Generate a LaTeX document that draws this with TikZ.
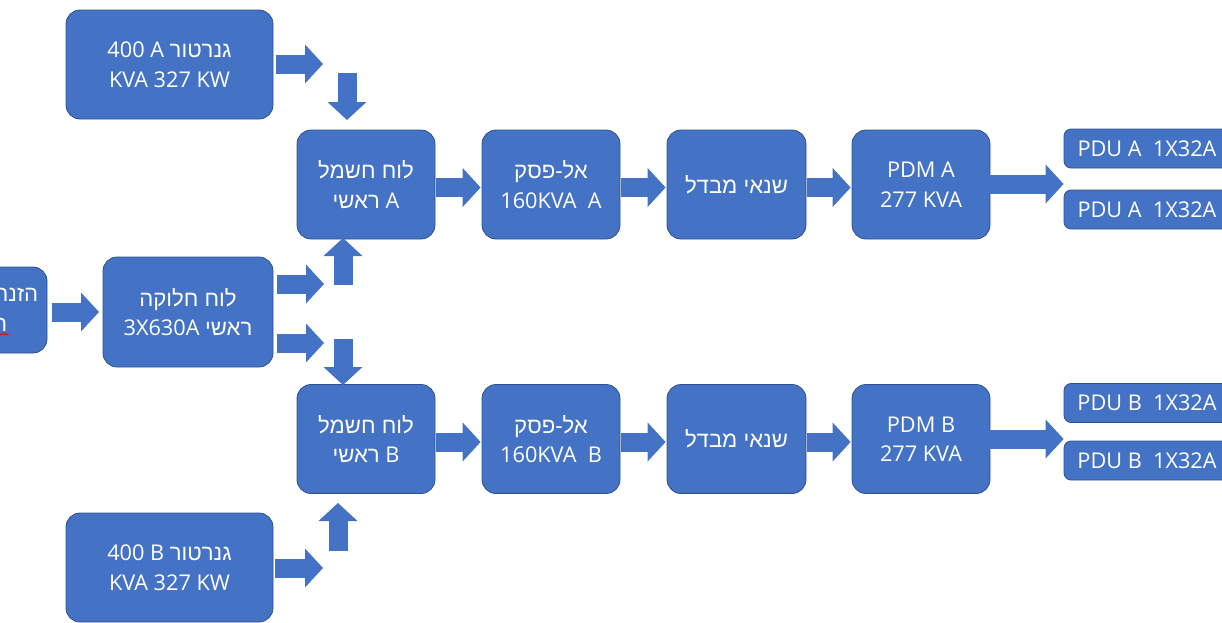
\documentclass[tikz,border=0pt]{standalone}
\usepackage{fontspec}
\setmainfont{Open Sans}
\newfontfamily\hebfont[Script=Hebrew,Scale=1.02]{Liberation Sans}
\TeXXeTstate=1
\newcommand\heb[1]{{\hebfont\beginR #1\endR}}
\usetikzlibrary{arrows.meta,decorations.pathmorphing}
\definecolor{boxblue}{HTML}{4472C4}
\definecolor{boxedge}{HTML}{2F528F}

\begin{document}
\begin{tikzpicture}[x=1pt,y=-1pt,
  box/.style={rectangle, rounded corners=14, fill=boxblue, draw=boxedge,
    line width=0.8, text=white, align=center, inner sep=0pt,
    minimum width=138, minimum height=109,
    font=\fontsize{21.7}{29.5}\selectfont},
  pdubox/.style={box, rounded corners=7, minimum width=166, minimum height=39},
  flow/.style={draw=boxblue, line width=19, line cap=butt,
    -{Triangle[length=18pt,width=39pt,line width=0pt]}}]

\useasboundingbox (0,0) rectangle (1222,622);
\clip (0,0) rectangle (1222,622);

% supply side
\node[box, minimum width=137, minimum height=86] (feed) at (-21.5,310)
  {\heb{הזנה מחברת}\\\heb{חשמל}};
\draw[red, line width=0.8, decorate, decoration={zigzag,amplitude=1,segment length=3}]
  (-40,334) -- (9,334);
\node[box, minimum width=207] (genA) at (169.5,64.5) {400 A \heb{גנרטור}\\KVA 327 KW};
\node[box, minimum width=207] (genB) at (169.5,567.5) {400 B \heb{גנרטור}\\KVA 327 KW};
\node[box, minimum width=170, minimum height=110] (main) at (188,312)
  {\heb{לוח חלוקה}\\3X630A \heb{ראשי}};

% chain A
\node[box] (panA) at (366,184.5) {\heb{לוח חשמל}\\\heb{ראשי} A};
\node[box] (upsA) at (551,184.5) {\heb{אל-פסק}\\160KVA\ \ A};
\node[box, minimum width=139] (trA) at (736.5,184.5) {\heb{שנאי מבדל}};
\node[box] (pdmA) at (921,184.5) {PDM A\\277 KVA};
\node[pdubox] (pduA1) at (1147,148.5) {PDU A\ \ 1X32A};
\node[pdubox] (pduA2) at (1147,209.5) {PDU A\ \ 1X32A};

% chain B
\node[box] (panB) at (366,439) {\heb{לוח חשמל}\\\heb{ראשי} B};
\node[box] (upsB) at (551,439) {\heb{אל-פסק}\\160KVA\ \ B};
\node[box, minimum width=139] (trB) at (736.5,439) {\heb{שנאי מבדל}};
\node[box] (pdmB) at (921,439) {PDM B\\277 KVA};
\node[pdubox] (pduB1) at (1147,403) {PDU B\ \ 1X32A};
\node[pdubox] (pduB2) at (1147,460.5) {PDU B\ \ 1X32A};

% arrow end points
\coordinate (feedOut) at (52,312);   \coordinate (mainIn) at (99,312);
\coordinate (mainOutA) at (277,284); \coordinate (mainEndA) at (324,284);
\coordinate (mainOutB) at (277,343); \coordinate (mainEndB) at (324,343);
\coordinate (upA0) at (343,285);     \coordinate (upA1) at (343,238);
\coordinate (dnB0) at (343,339);     \coordinate (dnB1) at (343,385);
\coordinate (genAOut) at (276,64);   \coordinate (genAEnd) at (323,64);
\coordinate (dnA0) at (347,73);      \coordinate (dnA1) at (347,120);
\coordinate (genBOut) at (275,568);  \coordinate (genBEnd) at (323,568);
\coordinate (upB0) at (338,551);     \coordinate (upB1) at (338,503);

% supply arrows
\draw[flow] (feedOut) -- (mainIn);
\draw[flow] (mainOutA) -- (mainEndA);
\draw[flow] (mainOutB) -- (mainEndB);
\draw[flow] (upA0) -- (upA1);
\draw[flow] (dnB0) -- (dnB1);
\draw[flow] (genAOut) -- (genAEnd);
\draw[flow] (dnA0) -- (dnA1);
\draw[flow] (genBOut) -- (genBEnd);
\draw[flow] (upB0) -- (upB1);

% chain arrows
\foreach \r/\y in {A/187.5, B/442} {
  \draw[flow] ([xshift=1]pan\r.east |- 0,\y) -- ([xshift=-1]ups\r.west |- 0,\y);
  \draw[flow] ([xshift=1]ups\r.east |- 0,\y) -- ([xshift=-1]tr\r.west |- 0,\y);
  \draw[flow] ([xshift=1]tr\r.east |- 0,\y) -- ([xshift=-1]pdm\r.west |- 0,\y);
}
\draw[flow] ([xshift=-2]pdmA.east |- 0,184) -- (pduA1.west |- 0,184);
\draw[flow] ([xshift=-2]pdmB.east |- 0,439) -- (pduB1.west |- 0,439);
\end{tikzpicture}
\end{document}
